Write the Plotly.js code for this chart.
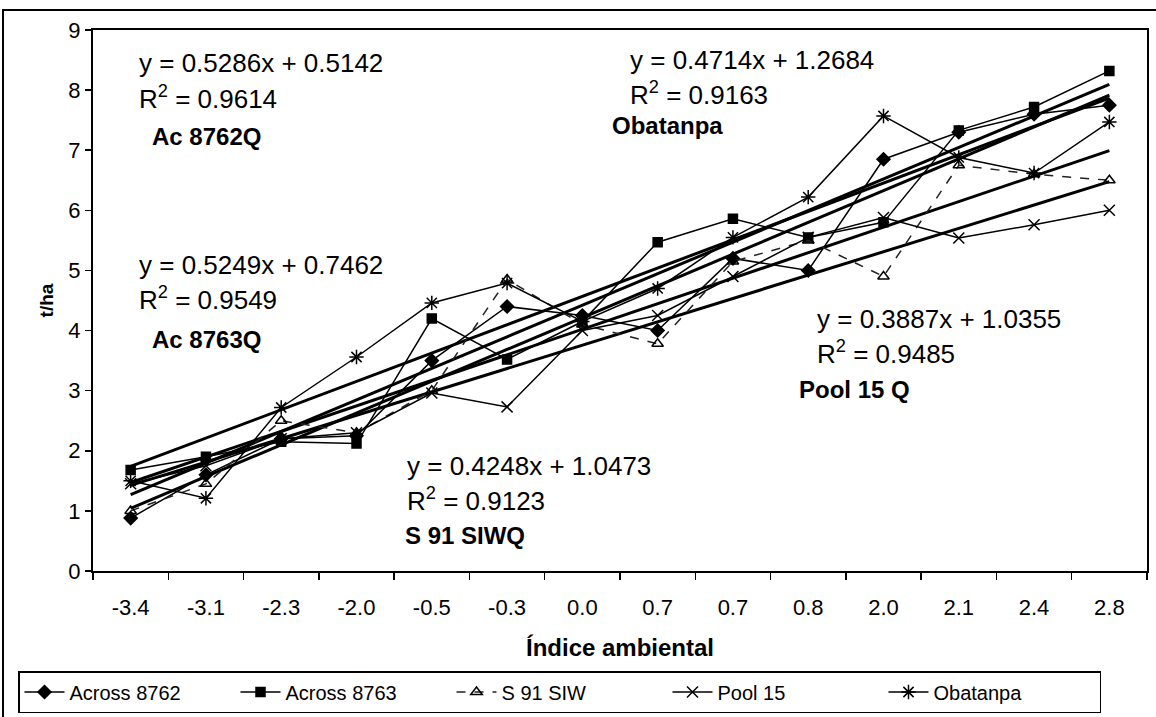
<!DOCTYPE html>
<html>
<head>
<meta charset="utf-8">
<script src="https://cdn.plot.ly/plotly-3.0.1.min.js"></script>
<style>html,body{margin:0;padding:0;background:#fff;}#chart{width:1156px;height:717px;}</style>
</head>
<body>
<div id="chart"></div>
<script>
// Environmental index categories (x axis, categorical order)
const categories = ["-3.4","-3.1","-2.3","-2.0","-0.5","-0.3","0.0","0.7","0.7","0.8","2.0","2.1","2.4","2.8"];

// Yield series (t/ha)
const across8762 = [0.88,1.60,2.20,2.25,3.50,4.40,4.25,4.00,5.20,5.00,6.85,7.30,7.60,7.75];
const across8763 = [1.68,1.90,2.15,2.12,4.20,3.52,4.15,5.47,5.86,5.55,5.80,7.33,7.72,8.32];
const s91siw     = [1.00,1.45,2.50,2.30,3.00,4.85,4.10,3.78,5.15,5.50,4.90,6.75,6.60,6.50];
const pool15     = [1.45,1.75,2.20,2.30,2.96,2.73,4.00,4.25,4.90,5.55,5.88,5.54,5.76,6.00];
const obatanpa   = [1.50,1.21,2.72,3.56,4.46,4.79,4.15,4.70,5.55,6.22,7.57,6.88,6.62,7.47];

const seriesNames = ["Across 8762","Across 8763","S 91 SIW","Pool 15","Obatanpa"];

// Linear trend equations shown on the chart
const trendSlopes     = [0.5286, 0.5249, 0.4248, 0.3887, 0.4714];
const trendIntercepts = [0.5142, 0.7462, 1.0473, 1.0355, 1.2684];
const trendR2         = ["0.9614","0.9549","0.9123","0.9485","0.9163"];
const trendLabels     = ["Ac 8762Q","Ac 8763Q","S 91 SIWQ","Pool 15 Q","Obatanpa"];

const xIdx = categories.map((c,i)=>i+1);
const boundaries = [];
for (let i=0;i<=categories.length;i++) boundaries.push(i+0.5);

const seriesData = [across8762, across8763, s91siw, pool15, obatanpa];
const styles = [
  {symbol:'diamond', size:10, dash:'solid'},
  {symbol:'square', size:9, dash:'solid'},
  {symbol:'triangle-up-open', size:10, dash:'dash'},
  {symbol:'x-thin-open', size:11, dash:'solid'},
  {symbol:'asterisk-open', size:12, dash:'solid'}
];

const traces = [];
trendSlopes.forEach((m,k)=>{
  traces.push({
    x: xIdx, y: xIdx.map(x=>m*x+trendIntercepts[k]),
    mode:'lines', line:{color:'#000', width:3}, showlegend:false, hoverinfo:'skip', xaxis:'x', yaxis:'y'
  });
});
seriesData.forEach((d,k)=>{
  const s = styles[k];
  traces.push({
    x: xIdx, y: d, name: seriesNames[k], mode:'lines+markers',
    line:{color: k===2 ? '#222' : '#000', width:1.5, dash:s.dash},
    marker:{symbol:s.symbol, size:s.size, color:'#000', line:{color:'#000', width:1.5}},
    xaxis:'x', yaxis:'y'
  });
});

const L=93, R=1147, T=30, B=571;
const W=R-L, H=B-T;
const px = v => (v-L)/W;
const py = v => (B-v)/H;

const FAM = 'Liberation Sans, Arial, sans-serif';
const annFont = {family:FAM, size:26, color:'#000'};
const boldFont = {family:FAM, size:24, color:'#000'};
const annPos = [
  // [eqX, eqY, r2Y, labX, labY]
  [137, 63, 97, 150, 136],   // Ac 8762Q
  [137, 265, 298, 150, 340], // Ac 8763Q
  [405, 466, 499, 403, 535], // S 91 SIWQ
  [815, 319, 352, 797, 389], // Pool 15 Q
  [628, 60, 93, 610, 125]    // Obatanpa
];
const annotations = [];
annPos.forEach((p,k)=>{
  annotations.push({xref:'paper', yref:'paper', x:px(p[0]), y:py(p[1]), xanchor:'left', yanchor:'middle', showarrow:false,
    text:'y = '+trendSlopes[k].toFixed(4)+'x + '+trendIntercepts[k].toFixed(4), font:annFont});
  annotations.push({xref:'paper', yref:'paper', x:px(p[0]), y:py(p[2]), xanchor:'left', yanchor:'middle', showarrow:false,
    text:'R<sup>2</sup> = '+trendR2[k], font:annFont});
  annotations.push({xref:'paper', yref:'paper', x:px(p[3]), y:py(p[4]), xanchor:'left', yanchor:'middle', showarrow:false,
    text:'<b>'+trendLabels[k]+'</b>', font:boldFont});
});

const layout = {
  width:1156, height:717,
  margin:{l:L, r:1156-R, t:T, b:717-B, autoexpand:false},
  paper_bgcolor:'#fff', plot_bgcolor:'#fff',
  font:{family:FAM, color:'#000'},
  showlegend:true,
  legend:{orientation:'h', x:px(18), y:py(713), xanchor:'left', yanchor:'bottom',
    bordercolor:'#000', borderwidth:1.5, bgcolor:'#fff',
    font:{size:20, color:'#000'}, itemwidth:40, entrywidth:161, entrywidthmode:'pixels', tracegroupgap:0},
  xaxis:{range:[0.5, categories.length+0.5], tickvals:xIdx, ticktext:categories, automargin:false,
    ticks:'', showgrid:false, zeroline:false, tickfont:{size:22, color:'#000'}, ticklabelstandoff:16,
    showline:true, linecolor:'#000', linewidth:2, mirror:true,
    title:{text:'<b>Índice ambiental</b>', font:{size:24, color:'#000'}, standoff:20}},
  xaxis2:{overlaying:'x', side:'bottom', range:[0.5, categories.length+0.5], tickvals:boundaries, automargin:false,
    showticklabels:false, ticks:'outside', ticklen:8, tickwidth:1.5, tickcolor:'#000',
    showgrid:false, zeroline:false, showline:false},
  yaxis:{range:[0,9], dtick:1, ticks:'outside', ticklen:6, tickwidth:1.5, tickcolor:'#000', showgrid:false, zeroline:false,
    showline:true, linecolor:'#000', linewidth:2, mirror:true, tickfont:{size:22, color:'#000'}, automargin:false,
    title:{text:'<b>t/ha</b>', font:{size:19, color:'#000'}, standoff:10}},
  annotations: annotations,
  shapes:[
    {type:'rect', xref:'paper', yref:'paper', x0:px(3), x1:px(1170), y0:py(730), y1:py(10), line:{color:'#000', width:2}, fillcolor:'rgba(0,0,0,0)', layer:'below'}
  ]
};

// carrier trace so the boundary-tick axis is drawn
traces.push({x:[1], y:[null], xaxis:'x2', yaxis:'y', showlegend:false, hoverinfo:'skip', mode:'markers'});

Plotly.newPlot('chart', traces, layout, {displayModeBar:false, staticPlot:true});
</script>
</body>
</html>
